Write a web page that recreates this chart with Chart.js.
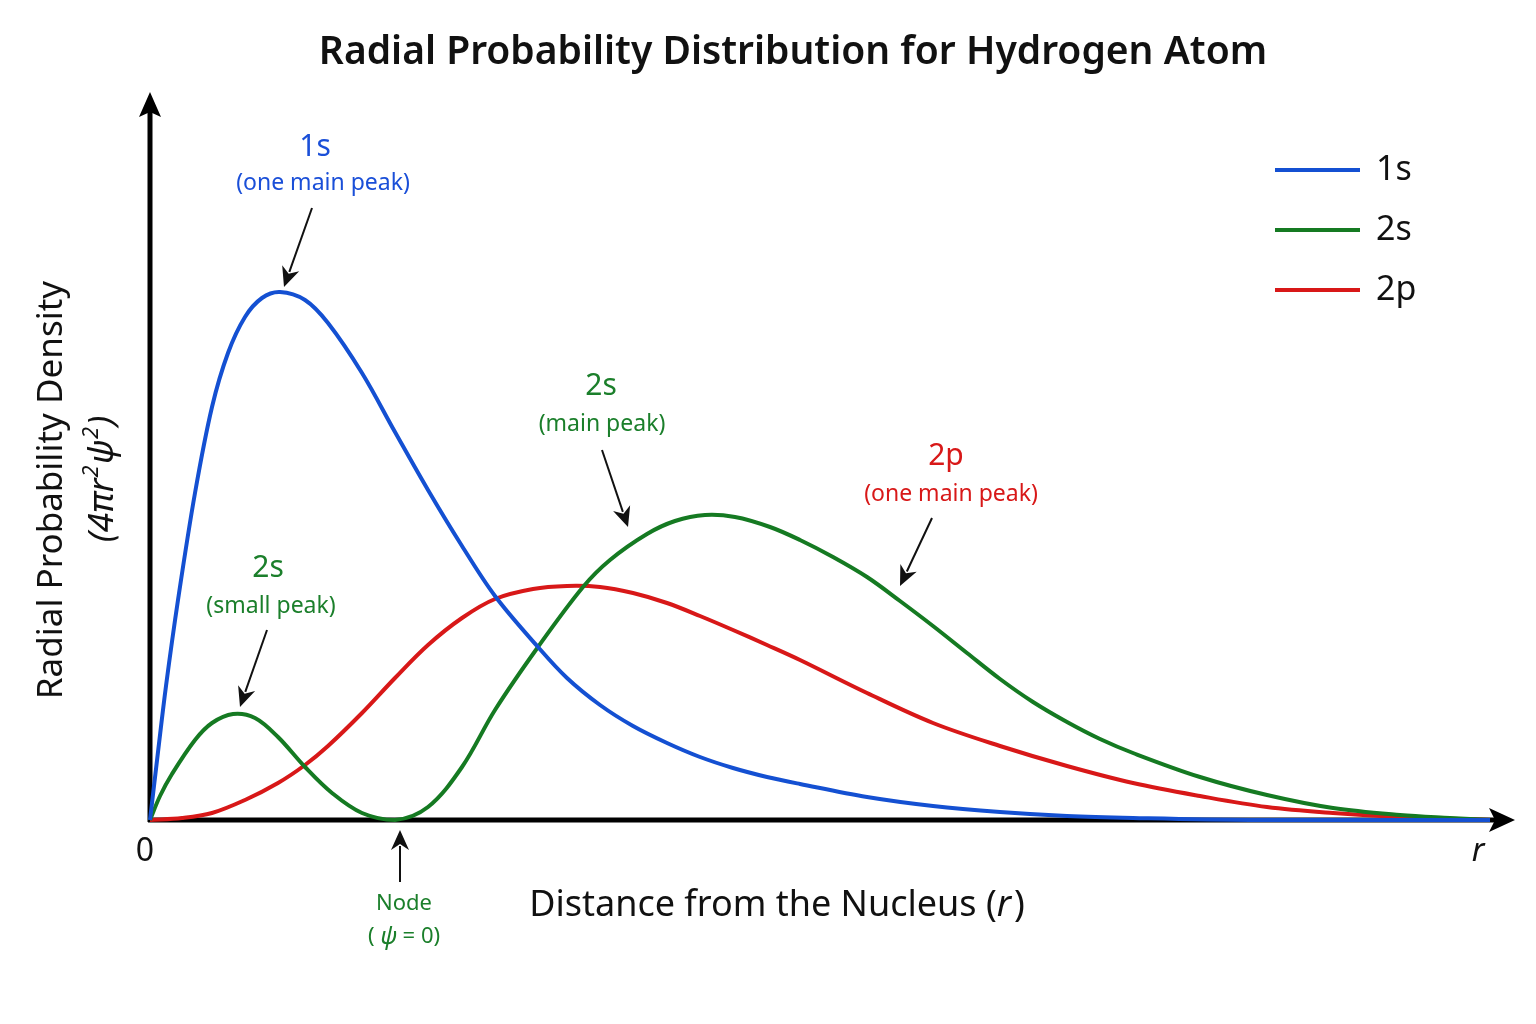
<!DOCTYPE html>
<html>
<head>
<meta charset="utf-8">
<script src="https://cdn.jsdelivr.net/npm/chart.js@4.4.1/dist/chart.umd.min.js"></script>
<style>
  html, body { margin: 0; padding: 0; background: #fff; }
  #wrap { width: 1536px; height: 1024px; }
</style>
</head>
<body>
<div id="wrap"><canvas id="rpd"></canvas></div>
<script>
// Curve samples (r in arbitrary units, density in arbitrary units)
const r1s = [0, 0.08, 0.16, 0.28, 0.45, 0.62, 0.78, 0.95, 1.12, 1.30, 1.55, 1.78, 2.12, 2.45, 2.78, 3.12, 3.45,
             3.88, 4.17, 4.50, 4.83, 5.17, 5.50, 5.83, 6.17, 6.50, 7.17, 7.83, 8.50, 9.17, 9.83, 11.0, 13.4];
const p1s = [0, 0.68, 1.34, 2.20, 3.27, 4.13, 4.67, 5.03, 5.22, 5.28, 5.20, 4.97, 4.47, 3.88, 3.30, 2.74, 2.24,
             1.73, 1.42, 1.15, 0.94, 0.77, 0.63, 0.52, 0.43, 0.36, 0.23, 0.14, 0.08, 0.04, 0.02, 0.0, 0.0];

const r2s = [0, 0.10, 0.22, 0.45, 0.62, 0.83, 1.05, 1.28, 1.55, 1.82, 2.12, 2.45, 2.78, 3.12, 3.45, 3.88, 4.33,
             4.60, 4.97, 5.25, 5.55, 5.85, 6.20, 6.50, 6.83, 7.17, 7.50, 7.83, 8.17, 8.50, 8.83, 9.17, 9.50,
             9.83, 10.50, 11.17, 11.83, 12.50, 13.0, 13.4];
const p2s = [0, 0.24, 0.46, 0.80, 0.97, 1.06, 1.02, 0.83, 0.53, 0.27, 0.07, 0.0, 0.13, 0.53, 1.10, 1.73, 2.33,
             2.60, 2.86, 2.99, 3.05, 3.03, 2.93, 2.80, 2.63, 2.43, 2.19, 1.94, 1.67, 1.41, 1.18, 0.98, 0.81,
             0.67, 0.43, 0.25, 0.12, 0.05, 0.02, 0.0];

const r2p = [0, 0.32, 0.62, 0.95, 1.28, 1.55, 1.78, 2.12, 2.45, 2.78, 3.12, 3.45, 3.83, 4.17, 4.50, 4.83, 5.17,
             5.50, 5.83, 6.17, 6.50, 7.17, 7.83, 8.50, 9.17, 9.83, 10.50, 11.17, 11.83, 12.50, 13.4];
const p2p = [0, 0.02, 0.07, 0.20, 0.37, 0.55, 0.74, 1.07, 1.42, 1.75, 2.02, 2.21, 2.31, 2.34, 2.33, 2.27, 2.17,
             2.04, 1.90, 1.75, 1.60, 1.27, 0.97, 0.74, 0.54, 0.37, 0.24, 0.13, 0.07, 0.03, 0.0];

const seriesNames = ['1s', '2s', '2p'];
const seriesColors = ['#1450d2', '#157a22', '#d81818'];

// Callouts, positioned in data units
const callouts = [
  { title: '1s', sub: '(one main peak)', color: '#1a4fd8', at: [1.65, 6.73], subAt: [1.73, 6.37], from: [1.62, 6.12], to: [1.34, 5.33] },
  { title: '2s', sub: '(small peak)', color: '#1b7f2b', at: [1.18, 2.52], subAt: [1.21, 2.14], from: [1.17, 1.90], to: [0.90, 1.13] },
  { title: '2s', sub: '(main peak)', color: '#1b7f2b', at: [4.51, 4.34], subAt: [4.52, 3.96], from: [4.52, 3.70], to: [4.78, 2.93] },
  { title: '2p', sub: '(one main peak)', color: '#d81818', at: [7.96, 3.64], subAt: [8.01, 3.26], from: [7.82, 3.02], to: [7.50, 2.34] }
];
const nodeNote = { lines: ['Node', '( \u03C8 = 0)'], color: '#1b7f2b', at: [2.54, -0.84], at2: [2.54, -1.17], from: [2.50, -0.62], to: [2.50, -0.10] };

const FONT = '"Noto Sans", "Open Sans", sans-serif';

function toPts(xs, ys) {
  return xs.map((x, i) => ({ x: x, y: ys[i] }));
}

function arrow(ctx, x1, y1, x2, y2, head, half, width) {
  const a = Math.atan2(y2 - y1, x2 - x1);
  ctx.beginPath();
  ctx.moveTo(x1, y1);
  ctx.lineTo(x2 - Math.cos(a) * head * 0.8, y2 - Math.sin(a) * head * 0.8);
  ctx.lineWidth = width;
  ctx.stroke();
  ctx.beginPath();
  ctx.moveTo(x2, y2);
  ctx.lineTo(x2 - Math.cos(a) * head + Math.sin(a) * half, y2 - Math.sin(a) * head - Math.cos(a) * half);
  ctx.lineTo(x2 - Math.cos(a) * head * 0.7, y2 - Math.sin(a) * head * 0.7);
  ctx.lineTo(x2 - Math.cos(a) * head - Math.sin(a) * half, y2 - Math.sin(a) * head + Math.cos(a) * half);
  ctx.closePath();
  ctx.fill();
}

// draw a run of [text, font, dy, gap] pieces, centred on cx
function drawRun(ctx, pieces, cx, cy) {
  let total = 0;
  pieces.forEach(p => { ctx.font = p[1]; total += ctx.measureText(p[0]).width + (p[3] || 0); });
  let x = cx - total / 2;
  ctx.textAlign = 'left';
  pieces.forEach(p => {
    ctx.font = p[1];
    ctx.fillText(p[0], x, cy + (p[2] || 0));
    x += ctx.measureText(p[0]).width + (p[3] || 0);
  });
  ctx.textAlign = 'center';
}

// axes with arrowheads, drawn under the curves
const axesPlugin = {
  id: 'axesArrows',
  beforeDatasetsDraw(chart) {
    const { ctx, scales: { x, y } } = chart;
    const x0 = x.getPixelForValue(0), y0 = y.getPixelForValue(0);
    const xEnd = x.getPixelForValue(x.max), yTop = y.getPixelForValue(y.max);
    ctx.save();
    ctx.strokeStyle = '#000';
    ctx.fillStyle = '#000';
    ctx.lineWidth = 5;
    ctx.beginPath();
    ctx.moveTo(x0, y0 + 2);
    ctx.lineTo(x0, yTop + 20);
    ctx.stroke();
    ctx.beginPath();
    ctx.moveTo(x0 - 2, y0);
    ctx.lineTo(xEnd - 20, y0);
    ctx.stroke();
    ctx.beginPath();
    ctx.moveTo(x0, yTop);
    ctx.lineTo(x0 - 11, yTop + 25);
    ctx.lineTo(x0, yTop + 20);
    ctx.lineTo(x0 + 11, yTop + 25);
    ctx.closePath();
    ctx.fill();
    ctx.beginPath();
    ctx.moveTo(xEnd, y0);
    ctx.lineTo(xEnd - 26, y0 - 12);
    ctx.lineTo(xEnd - 20, y0);
    ctx.lineTo(xEnd - 26, y0 + 12);
    ctx.closePath();
    ctx.fill();
    ctx.restore();
  },
  afterDatasetsDraw(chart) {
    const { ctx, scales: { x, y } } = chart;
    const X = v => x.getPixelForValue(v), Y = v => y.getPixelForValue(v);
    ctx.save();
    ctx.textAlign = 'center';
    ctx.textBaseline = 'middle';

    // title
    ctx.fillStyle = '#111';
    ctx.font = '600 39px ' + FONT;
    ctx.fillText('Radial Probability Distribution for Hydrogen Atom', 793, 53);

    // origin + r label
    ctx.font = '32px ' + FONT;
    ctx.fillText('0', X(0) - 5, Y(0) + 32);
    ctx.font = 'italic 32px ' + FONT;
    ctx.fillText('r', 1478, Y(0) + 32);

    // x axis title with italic r
    drawRun(ctx, [
      ['Distance from the Nucleus (', '36px ' + FONT],
      ['r', 'italic 36px ' + FONT, 0, 3],
      [')', '36px ' + FONT]
    ], 777, 906);

    // y axis title
    ctx.save();
    ctx.translate(52, 490);
    ctx.rotate(-Math.PI / 2);
    ctx.font = '35px ' + FONT;
    ctx.fillText('Radial Probability Density', 0, 0);
    ctx.restore();
    ctx.save();
    ctx.translate(103, 479);
    ctx.rotate(-Math.PI / 2);
    const it = 'italic 35px ' + FONT, sup = 'italic 22px ' + FONT;
    drawRun(ctx, [
      ['(4\u03C0r', it, 0, 1],
      ['2', sup, -11, 1],
      ['\u03C8', it, 0, 1],
      ['2', sup, -11, 1],
      [')', it]
    ], 0, 0);
    ctx.restore();

    // callouts
    callouts.forEach(c => {
      ctx.fillStyle = c.color;
      ctx.font = '30px ' + FONT;
      ctx.fillText(c.title, X(c.at[0]), Y(c.at[1]));
      ctx.font = '23px ' + FONT;
      ctx.fillText(c.sub, X(c.subAt[0]), Y(c.subAt[1]));
      ctx.strokeStyle = '#111';
      ctx.fillStyle = '#111';
      arrow(ctx, X(c.from[0]), Y(c.from[1]), X(c.to[0]), Y(c.to[1]), 20, 9, 2);
    });

    // node note
    ctx.fillStyle = nodeNote.color;
    ctx.font = '22px ' + FONT;
    ctx.fillText(nodeNote.lines[0], X(nodeNote.at[0]), Y(nodeNote.at[1]));
    drawRun(ctx, [
      ['( ', '22px ' + FONT],
      ['\u03C8', 'italic 24px ' + FONT],
      [' = 0)', '22px ' + FONT]
    ], X(nodeNote.at2[0]), Y(nodeNote.at2[1]));
    ctx.strokeStyle = '#111';
    ctx.fillStyle = '#111';
    arrow(ctx, X(nodeNote.from[0]), Y(nodeNote.from[1]), X(nodeNote.to[0]), Y(nodeNote.to[1]), 20, 9, 2);

    // legend
    chart.data.datasets.forEach((ds, i) => {
      const ly = 170 + i * 60;
      ctx.strokeStyle = ds.borderColor;
      ctx.lineWidth = 4;
      ctx.beginPath();
      ctx.moveTo(1275, ly);
      ctx.lineTo(1360, ly);
      ctx.stroke();
      ctx.fillStyle = '#111';
      ctx.textAlign = 'left';
      ctx.font = '34px ' + FONT;
      ctx.fillText(ds.label, 1376, ly);
      ctx.textAlign = 'center';
    });
    ctx.restore();
  }
};

const ctx = document.getElementById('rpd').getContext('2d');
const chart = new Chart(ctx, {
  type: 'scatter',
  data: {
    datasets: [
      { label: seriesNames[0], data: toPts(r1s, p1s), borderColor: seriesColors[0] },
      { label: seriesNames[1], data: toPts(r2s, p2s), borderColor: seriesColors[1] },
      { label: seriesNames[2], data: toPts(r2p, p2p), borderColor: seriesColors[2] }
    ].map(d => Object.assign(d, {
      showLine: true,
      borderWidth: 4,
      pointRadius: 0,
      pointHoverRadius: 0,
      tension: 0.35,
      fill: false,
      clip: false
    }))
  },
  options: {
    responsive: true,
    maintainAspectRatio: false,
    animation: false,
    layout: { padding: { left: 150, right: 21, top: 92, bottom: 204 } },
    scales: {
      x: { type: 'linear', min: 0, max: 13.65, display: false },
      y: { type: 'linear', min: 0, max: 7.28, display: false }
    },
    plugins: {
      legend: { display: false },
      title: { display: false },
      tooltip: { enabled: false }
    }
  },
  plugins: [axesPlugin]
});
</script>
</body>
</html>
